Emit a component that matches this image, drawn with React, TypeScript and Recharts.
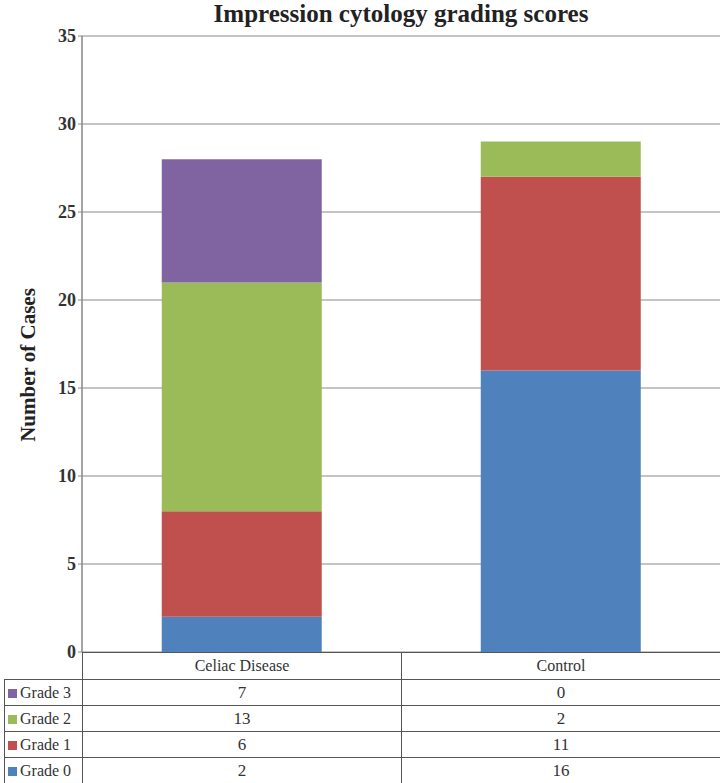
import React from "react";
import { BarChart, Bar, XAxis, YAxis, CartesianGrid } from "recharts";

const categories = ["Celiac Disease", "Control"];
const grade0 = [2, 16];
const grade1 = [6, 11];
const grade2 = [13, 2];
const grade3 = [7, 0];
const yTicks = [0, 5, 10, 15, 20, 25, 30, 35];

const series = [
  { key: "g3", name: "Grade 3", values: grade3, color: "#8064A2" },
  { key: "g2", name: "Grade 2", values: grade2, color: "#9BBB59" },
  { key: "g1", name: "Grade 1", values: grade1, color: "#C0504D" },
  { key: "g0", name: "Grade 0", values: grade0, color: "#4F81BD" },
];

const data = categories.map((c, i) => ({
  name: c,
  g0: grade0[i],
  g1: grade1[i],
  g2: grade2[i],
  g3: grade3[i],
}));

const serif = "'Liberation Serif', 'DejaVu Serif', serif";
const border = "1px solid #555";

export default function App() {
  const stackOrder = [...series].reverse();
  return (
    <div style={{ position: "absolute", left: 0, top: 0, width: 720, height: 783, background: "#fff", fontFamily: serif }}>
      <div
        style={{
          position: "absolute",
          top: 0,
          left: 82,
          width: 638,
          textAlign: "center",
          fontSize: 25,
          fontWeight: "bold",
          color: "#222",
        }}
      >
        Impression cytology grading scores
      </div>
      <div
        style={{
          position: "absolute",
          left: 28,
          top: 365,
          transform: "translate(-50%, -50%) rotate(-90deg)",
          fontSize: 21,
          fontWeight: "bold",
          whiteSpace: "nowrap",
          color: "#222",
        }}
      >
        Number of Cases
      </div>
      <BarChart
        width={720}
        height={680}
        data={data}
        margin={{ top: 36, right: 0, bottom: 28, left: 0 }}
        barCategoryGap="25%"
        style={{ position: "absolute", left: 0, top: 0 }}
      >
        <CartesianGrid vertical={false} stroke="#b0b0b0" strokeWidth={1.5} />
        <XAxis dataKey="name" hide />
        <YAxis
          width={82}
          domain={[0, 35]}
          ticks={yTicks}
          interval={0}
          axisLine={{ stroke: "#868686", strokeWidth: 1.5 }}
          tickLine={{ stroke: "#868686" }}
          tickSize={4}
          tick={{ fill: "#333", fontSize: 18, fontWeight: "bold", fontFamily: serif }}
        />
        {stackOrder.map((s) => (
          <Bar key={s.key} dataKey={s.key} name={s.name} stackId="a" fill={s.color} isAnimationActive={false} />
        ))}
      </BarChart>
      <table
        style={{
          position: "absolute",
          left: 4,
          top: 652,
          width: 716,
          borderCollapse: "collapse",
          fontSize: 17,
          fontFamily: serif,
          color: "#333",
          tableLayout: "fixed",
        }}
      >
        <colgroup>
          <col style={{ width: 78 }} />
          <col style={{ width: 319 }} />
          <col style={{ width: 319 }} />
        </colgroup>
        <tbody>
          <tr style={{ height: 27 }}>
            <td style={{ borderRight: border, padding: 0 }}></td>
            {categories.map((c) => (
              <td key={c} style={{ border, textAlign: "center", padding: 0, fontSize: 16 }}>
                {c}
              </td>
            ))}
          </tr>
          {series.map((s) => (
            <tr key={s.key} style={{ height: 26 }}>
              <td style={{ border, padding: "0 0 0 3px", whiteSpace: "nowrap", fontSize: 16 }}>
                <span
                  style={{
                    display: "inline-block",
                    width: 9,
                    height: 9,
                    background: s.color,
                    marginRight: 3,
                  }}
                />
                {s.name}
              </td>
              {s.values.map((v, i) => (
                <td key={i} style={{ border, textAlign: "center", padding: 0, fontSize: 17 }}>
                  {v}
                </td>
              ))}
            </tr>
          ))}
        </tbody>
      </table>
    </div>
  );
}
